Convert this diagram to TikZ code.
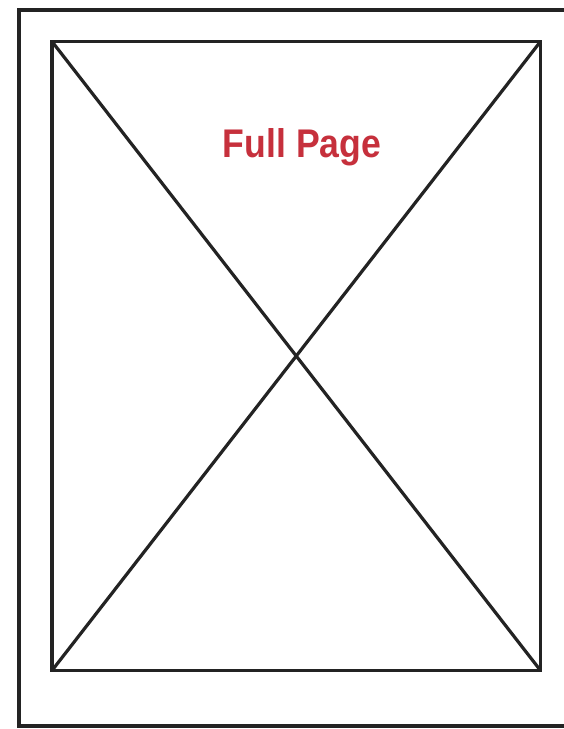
\documentclass[tikz,border=0pt]{standalone}
\usepackage{fontspec}
\setmainfont{Liberation Sans}
\definecolor{pagered}{RGB}{198,48,60}
\definecolor{ink}{RGB}{35,35,35}
\begin{document}
\begin{tikzpicture}[x=1pt,y=-1pt,
  frame/.style={draw=ink,line width=3.6pt},
  diag/.style={draw=ink,line width=3.2pt},
  title/.style={text=pagered,font=\bfseries\fontsize{40}{40}\selectfont,xscale=0.89,inner sep=0pt,anchor=base}]
\useasboundingbox (0,0) rectangle (564,729);
\clip (0,0) rectangle (564,729);
\fill[white] (0,0) rectangle (564,729);
\draw[frame] (19,10) rectangle (600,726);
\coordinate (tl) at (52,41.5);
\coordinate (tr) at (540.5,41.5);
\coordinate (bl) at (52,670.5);
\coordinate (br) at (540.5,670.5);
\draw[diag] (tl) -- (br);
\draw[diag] (tr) -- (bl);
\draw[frame,line join=miter] (tl) rectangle (br);
\node[title] (t) at (302,157) {Full Page};
\end{tikzpicture}
\end{document}
